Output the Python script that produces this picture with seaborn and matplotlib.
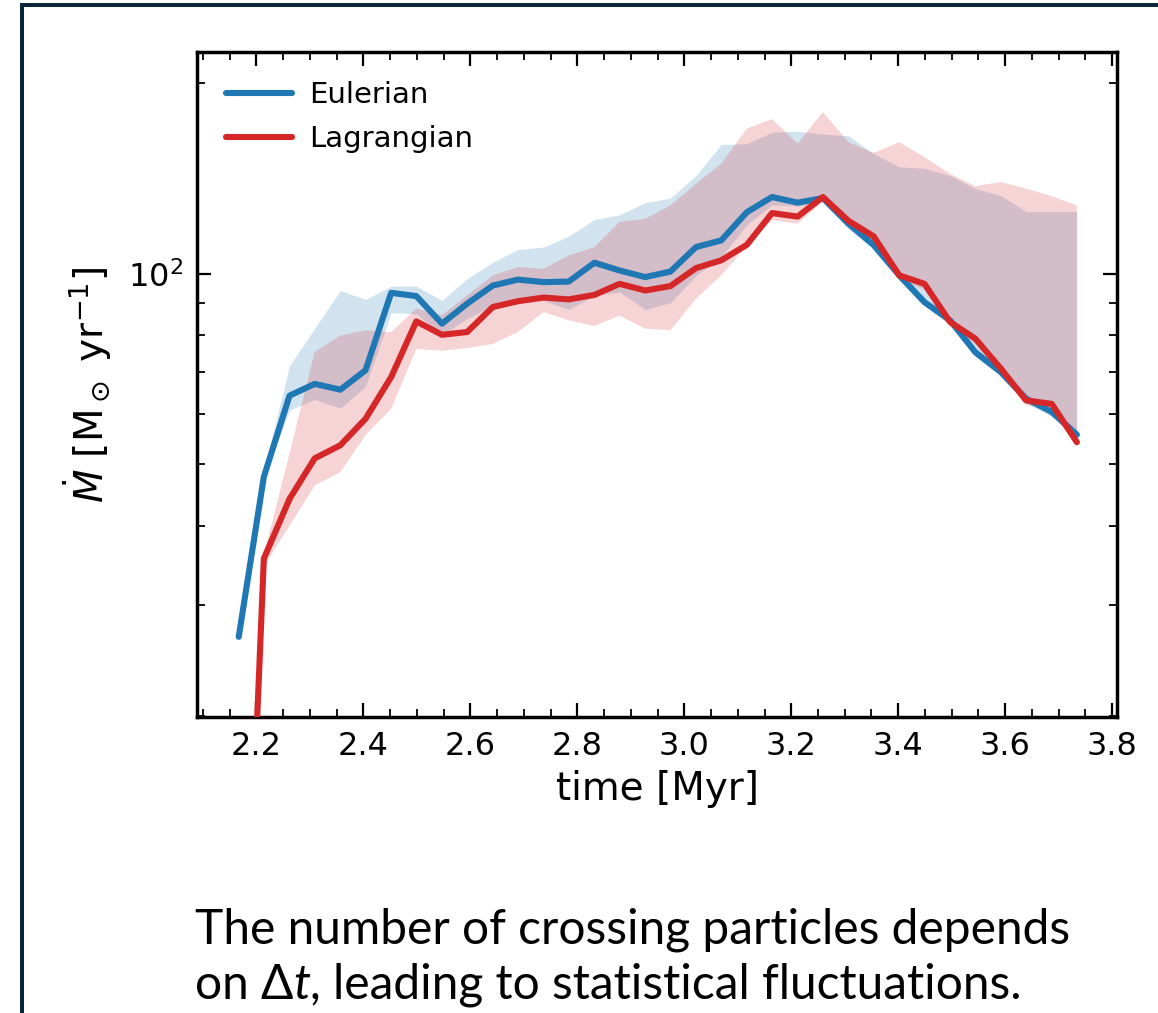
import numpy as np
import pandas as pd
import matplotlib
matplotlib.use("Agg")
import matplotlib.pyplot as plt
import seaborn as sns
from matplotlib.ticker import MultipleLocator, NullFormatter, LogLocator
from matplotlib.patches import Rectangle

# ---------------- data ----------------
time = [2.167, 2.214, 2.262, 2.309, 2.357, 2.404, 2.452, 2.499, 2.547, 2.594,
        2.642, 2.689, 2.737, 2.784, 2.832, 2.879, 2.927, 2.974, 3.022, 3.069,
        3.117, 3.164, 3.212, 3.259, 3.307, 3.354, 3.402, 3.449, 3.497, 3.544,
        3.592, 3.639, 3.687, 3.734]

euler = [26.7, 47.8, 64.2, 67.0, 65.6, 70.4, 93.3, 92.2, 83.4, 89.7,
         95.8, 97.9, 97.0, 97.2, 104.1, 101.2, 98.8, 100.8, 110.2, 112.9,
         125.1, 132.2, 129.5, 131.7, 120.0, 111.0, 99.4, 90.2, 84.4, 75.2,
         69.9, 63.5, 60.5, 55.7]
euler_lo = [26.7, 47.8, 60.9, 63.3, 61.3, 66.4, 86.8, 86.5, 80.0, 85.0,
            89.0, 91.0, 90.7, 87.8, 92.4, 93.6, 87.8, 90.0, 99.4, 106.3,
            119.5, 128.5, 127.9, 130.0, 117.5, 109.5, 98.0, 89.0, 83.0, 74.0,
            69.0, 62.5, 59.5, 54.8]
euler_hi = [26.7, 49.0, 71.6, 82.0, 94.1, 91.1, 95.6, 95.6, 90.8, 98.2,
            104.3, 109.2, 110.2, 114.7, 121.8, 123.9, 129.5, 131.7, 142.9, 160.0,
            160.5, 167.3, 168.0, 166.2, 165.2, 154.7, 147.4, 146.8, 142.9, 136.3,
            132.9, 125.4, 125.4, 125.4]

lagr = [4.0, 35.5, 44.1, 51.1, 53.6, 59.0, 68.7, 84.1, 80.1, 80.9,
        88.6, 90.5, 91.7, 91.1, 92.6, 96.4, 94.1, 95.6, 102.1, 105.0,
        111.1, 124.7, 123.1, 132.2, 121.2, 114.6, 99.4, 96.4, 83.9, 79.0,
        70.8, 63.1, 62.3, 54.2]
lagr_lo = [4.0, 34.5, 40.0, 46.3, 48.6, 55.6, 61.2, 76.1, 75.6, 76.3,
           77.5, 80.9, 87.0, 84.4, 82.7, 85.9, 81.9, 81.4, 91.3, 99.4,
           110.8, 121.5, 120.0, 130.0, 119.5, 113.0, 97.5, 94.5, 82.5, 77.5,
           69.5, 62.0, 61.0, 53.2]
lagr_hi = [4.0, 36.0, 52.0, 75.2, 79.9, 81.4, 80.9, 88.1, 86.0, 92.4,
           99.4, 102.5, 101.8, 106.9, 110.2, 120.7, 122.1, 128.2, 138.7, 149.2,
           169.5, 175.5, 160.5, 180.0, 161.4, 155.2, 161.4, 152.8, 143.8, 137.5,
           139.6, 136.3, 132.6, 128.2]

methods = ["Eulerian", "Lagrangian"]
colors = {"Eulerian": "#1f77b4", "Lagrangian": "#d62728"}

caption1 = "The number of crossing particles depends"
caption2_a = "on \u0394"
caption2_b = "t"
caption2_c = ", leading to statistical fluctuations."

# ---------------- style ----------------
sns.set_theme(style="ticks")
plt.rcParams["font.family"] = ["DejaVu Sans"]
plt.rcParams["mathtext.fontset"] = "dejavusans"
plt.rcParams["text.color"] = "black"
plt.rcParams["axes.labelcolor"] = "black"

W, H = 1158, 1013
fig = plt.figure(figsize=(W / 100, H / 100), dpi=100)
fig.patch.set_facecolor("white")
ax = fig.add_axes([197 / W, 1 - 717 / H, (1117 - 197) / W, (717 - 52) / H])

df = pd.DataFrame({
    "time": time * 2,
    "Mdot": euler + lagr,
    "method": ["Eulerian"] * len(time) + ["Lagrangian"] * len(time),
})

ax.fill_between(time, euler_lo, euler_hi, color=colors["Eulerian"], alpha=0.2,
                lw=0, zorder=1)
ax.fill_between(time, lagr_lo, lagr_hi, color=colors["Lagrangian"], alpha=0.2,
                lw=0, zorder=1)

sns.lineplot(data=df, x="time", y="Mdot", hue="method", palette=colors,
             estimator=None, sort=False, lw=4.4, ax=ax, legend=False, zorder=3)

ax.set_yscale("log")
ax.set_xlim(2.089, 3.809)
ax.set_ylim(19.95, 224)

ax.xaxis.set_major_locator(MultipleLocator(0.2))
ax.xaxis.set_minor_locator(MultipleLocator(0.05))
ax.yaxis.set_major_locator(LogLocator(base=10))
ax.yaxis.set_minor_locator(LogLocator(base=10, subs=np.arange(2, 10)))
ax.yaxis.set_minor_formatter(NullFormatter())

ax.tick_params(which="both", direction="in", top=True, right=True,
               colors="black", labelcolor="black")
ax.tick_params(which="major", length=10, width=1.6, labelsize=23, pad=10)
ax.tick_params(which="minor", length=5.5, width=1.3)
for s in ax.spines.values():
    s.set_linewidth(2.5)
    s.set_color("black")
    s.set_visible(True)

ax.set_xlabel("time [Myr]", fontsize=28, color="black", labelpad=6)
ax.set_ylabel(r"$\dot{M}$ [M$_\odot$ yr$^{-1}$]", fontsize=28, color="black",
              labelpad=10)
ax.grid(False)
ax.set_facecolor("white")

handles = ax.get_lines()[:2]
leg = ax.legend(handles, methods, loc="upper left", frameon=False, fontsize=21,
                handlelength=2.25, labelspacing=0.55, handletextpad=0.6,
                borderaxespad=0.6, labelcolor="black")

# ---------------- slide frame ----------------
frame_col = "#0b2638"
fig.add_artist(Rectangle((20 / W, 0), 4 / W, 1 - 3 / H, transform=fig.transFigure,
                         color=frame_col, lw=0))
fig.add_artist(Rectangle((20 / W, 1 - 7 / H), 1 - 20 / W, 4 / H,
                         transform=fig.transFigure, color=frame_col, lw=0))

# ---------------- caption ----------------
cap_font = ["Lato", "DejaVu Sans"]
fs = 34.5
fig.text(195 / W, 1 - 943 / H, caption1, fontsize=fs, family=cap_font,
         va="baseline", ha="left", color="black")
t1 = fig.text(195 / W, 1 - 999 / H, caption2_a, fontsize=fs, family=cap_font,
              va="baseline", ha="left", color="black")
t2 = ax.annotate(caption2_b, xy=(1, 0), xycoords=t1, ha="left", va="bottom",
                 fontsize=fs, family=cap_font, style="italic", color="black",
                 annotation_clip=False)
t3 = ax.annotate(caption2_c, xy=(1, 0), xycoords=t2, ha="left", va="bottom",
                 fontsize=fs, family=cap_font, color="black",
                 annotation_clip=False)

fig.savefig("out.png", dpi=100, facecolor="white")
